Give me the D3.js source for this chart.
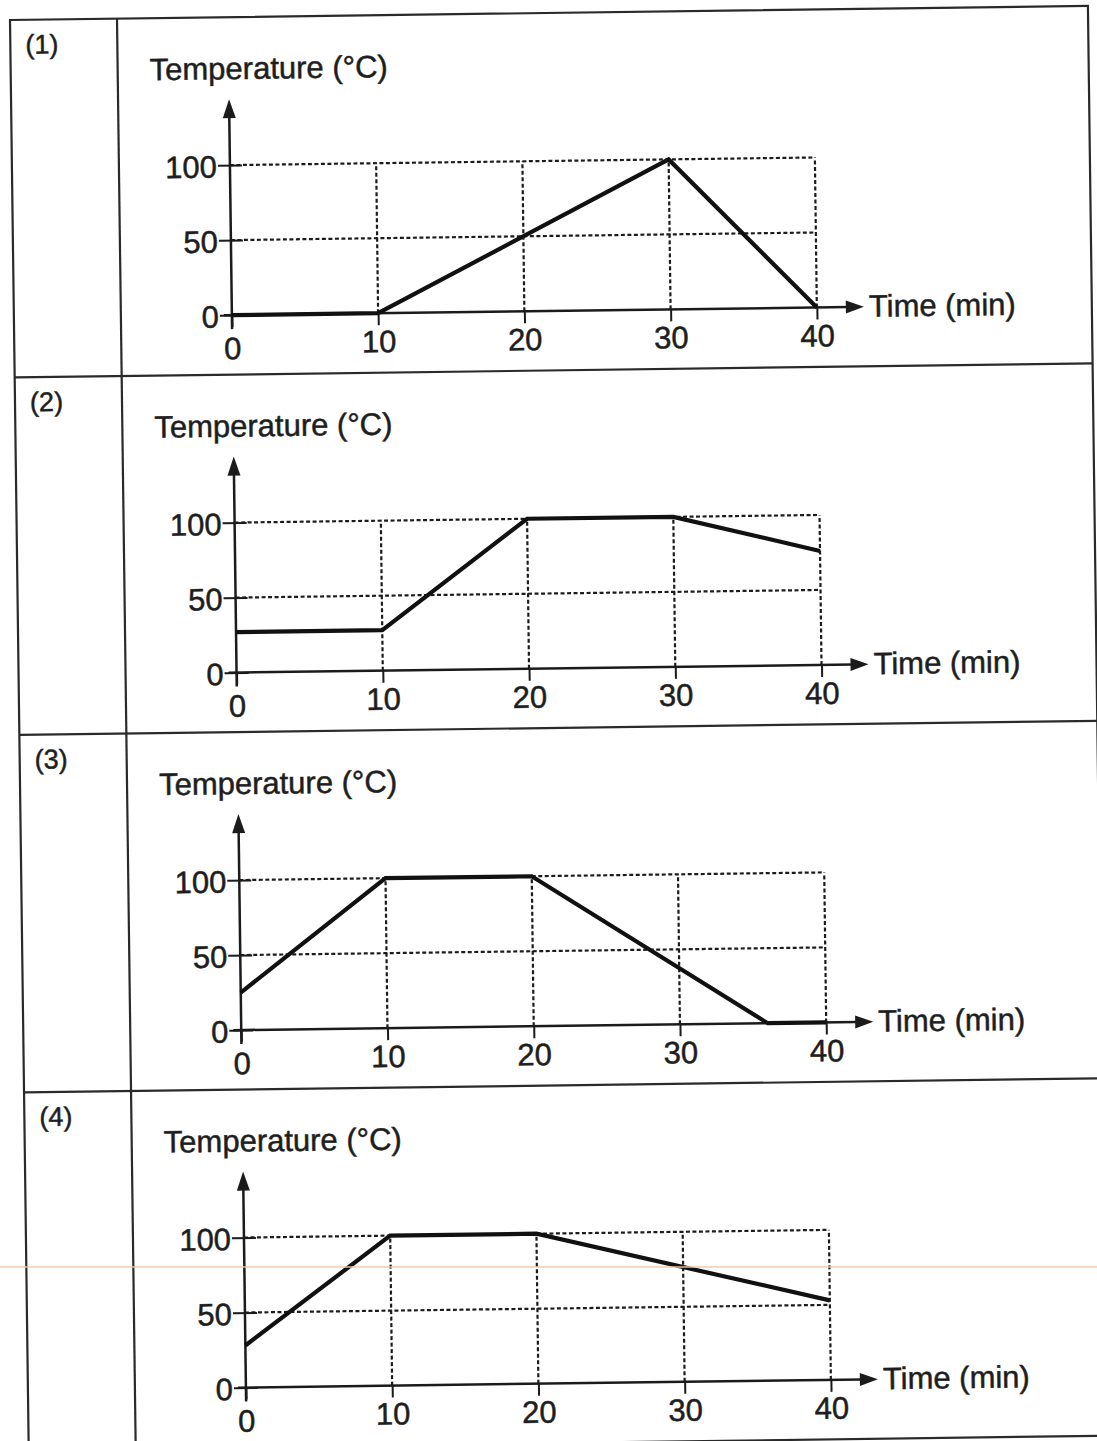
<!DOCTYPE html>
<html>
<head>
<meta charset="utf-8">
<script src="https://cdn.jsdelivr.net/npm/d3@7"></script>
<style>
body { margin: 0; background: #fff; }
svg { display: block; }
text {
    font-family: "Liberation Sans", Arial, sans-serif;
    fill: #1e1e1e;
    stroke: #1e1e1e;
    stroke-width: 0.5px;
}
</style>
</head>
<body>
<script>
// values
var panelLabels = ["(1)", "(2)", "(3)", "(4)"];
var timeTicks = [0, 10, 20, 30, 40];
var tempTicks = [0, 50, 100];
var gridTimes = [10, 20, 30, 40];
var gridTemps = [50, 100];

var times1 = [0, 10, 30, 40];
var temps1 = [0, 0, 100, 0];
var times2 = [0, 10, 20, 30, 40];
var temps2 = [27, 27, 100, 100, 76];
var times3 = [0, 10, 20, 36, 40];
var temps3 = [25, 100, 100, 0, 0];
var times4 = [0, 10, 20, 40];
var temps4 = [28, 100, 100, 53];

var yTitle = "Temperature (°C)";
var xTitle = "Time (min)";

var width = 1097,
    height = 1441;

// table layout (in the page's own, untilted frame)
var tableW = 1078, rowH = 357.5, labelColW = 107;
// origin of each small plot inside its row
var plotLeft = 218, plotBase = 298;
var plotW = 585, plotH = 150;

var ink = "#1b1b1b";

var x = d3.scaleLinear().domain([0, 40]).range([0, plotW]);
var y = d3.scaleLinear().domain([0, 100]).range([0, -plotH]);

var line = d3.line()
    .x(function(d) { return x(d[0]); })
    .y(function(d) { return y(d[1]); });

var svg = d3.select("body").append("svg")
    .attr("width", width)
    .attr("height", height);

svg.append("rect")
    .attr("width", width)
    .attr("height", height)
    .attr("fill", "#fff");

// the scan is a little tilted, so the whole sheet is rotated a bit
var page = svg.append("g")
    .attr("transform", "translate(10,20) rotate(-0.75)");

// table frame
page.append("rect")
    .attr("width", tableW)
    .attr("height", 4 * rowH)
    .attr("fill", "none")
    .attr("stroke", "#2a2a2a")
    .attr("stroke-width", 2.2);

page.selectAll(".rowline")
    .data([1, 2, 3])
    .enter().append("line")
    .attr("class", "rowline")
    .attr("x1", 0).attr("x2", tableW)
    .attr("y1", function(d) { return d * rowH; })
    .attr("y2", function(d) { return d * rowH; })
    .attr("stroke", "#2a2a2a")
    .attr("stroke-width", 2.2);

page.append("line")
    .attr("x1", labelColW).attr("x2", labelColW)
    .attr("y1", 0).attr("y2", 4 * rowH)
    .attr("stroke", "#2a2a2a")
    .attr("stroke-width", 2.2);

var rows = [
    {label: panelLabels[0], times: times1, temps: temps1},
    {label: panelLabels[1], times: times2, temps: temps2},
    {label: panelLabels[2], times: times3, temps: temps3},
    {label: panelLabels[3], times: times4, temps: temps4}
];

rows.forEach(function(r, i) {
    var row = page.append("g")
        .attr("transform", "translate(0," + (i * rowH) + ")");

    row.append("text")
        .attr("x", 15)
        .attr("y", 34)
        .attr("font-size", 27)
        .text(r.label);

    var g = row.append("g")
        .attr("transform", "translate(" + plotLeft + "," + plotBase + ")");

    // dotted guide lines
    g.selectAll(".hgrid")
        .data(gridTemps)
        .enter().append("line")
        .attr("x1", 0).attr("x2", x(40))
        .attr("y1", function(d) { return y(d); })
        .attr("y2", function(d) { return y(d); })
        .attr("stroke", ink)
        .attr("stroke-width", 2.2)
        .attr("stroke-dasharray", "4,2.5");

    g.selectAll(".vgrid")
        .data(gridTimes)
        .enter().append("line")
        .attr("x1", function(d) { return x(d); })
        .attr("x2", function(d) { return x(d); })
        .attr("y1", y(0)).attr("y2", y(100))
        .attr("stroke", ink)
        .attr("stroke-width", 2.2)
        .attr("stroke-dasharray", "4,2.5");

    // y ticks and labels
    var yAxis = g.append("g")
        .call(d3.axisLeft(y).tickValues(tempTicks).tickSize(12).tickPadding(1))
        .attr("font-size", null)
        .attr("font-family", null);
    yAxis.select(".domain").remove();
    yAxis.selectAll(".tick line")
        .attr("x1", 12)
        .attr("stroke", ink)
        .attr("stroke-width", 2);
    yAxis.selectAll(".tick text")
        .attr("font-size", 31)
        .attr("dy", "0.38em");

    // x ticks and labels
    var xAxis = g.append("g")
        .call(d3.axisBottom(x).tickValues(timeTicks).tickSize(12).tickPadding(6))
        .attr("font-size", null)
        .attr("font-family", null);
    xAxis.select(".domain").remove();
    xAxis.selectAll(".tick line")
        .attr("stroke", ink)
        .attr("stroke-width", 2);
    xAxis.selectAll(".tick text")
        .attr("font-size", 31)
        .attr("y", function(d) { return d === 0 ? 22 : 17; });

    // axes with arrow heads
    g.append("line")
        .attr("x1", -8).attr("x2", 616)
        .attr("y1", 0).attr("y2", 0)
        .attr("stroke", ink)
        .attr("stroke-width", 2.5);
    g.append("path")
        .attr("d", "M632,0L614,-6.5L614,6.5Z")
        .attr("fill", ink);

    g.append("line")
        .attr("x1", 0).attr("x2", 0)
        .attr("y1", 14).attr("y2", -199)
        .attr("stroke", ink)
        .attr("stroke-width", 2.5);
    g.append("path")
        .attr("d", "M0,-216L-6.5,-197L6.5,-197Z")
        .attr("fill", ink);

    g.append("text")
        .attr("x", -79)
        .attr("y", -236)
        .attr("font-size", 31)
        .text(yTitle);

    g.append("text")
        .attr("x", 637)
        .attr("y", 10)
        .attr("font-size", 31)
        .text(xTitle);

    // temperature curve
    var pts = r.times.map(function(t, k) { return [t, r.temps[k]]; });
    g.append("path")
        .datum(pts)
        .attr("d", line)
        .attr("fill", "none")
        .attr("stroke", "#111")
        .attr("stroke-width", 4.2)
        .attr("stroke-linejoin", "miter");
});

// faint peach streak left by the scanner
svg.append("line")
    .attr("x1", 0).attr("x2", width)
    .attr("y1", 1267).attr("y2", 1267)
    .attr("stroke", "#f0c8ad")
    .attr("stroke-opacity", 0.7)
    .attr("stroke-width", 2);
</script>
</body>
</html>
